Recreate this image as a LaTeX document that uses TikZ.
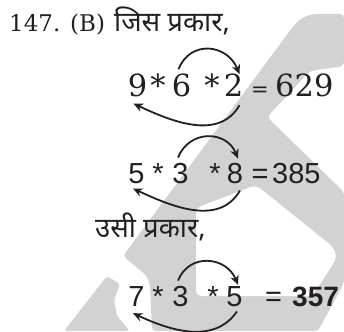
\documentclass[tikz,border=0pt]{standalone}
\usepackage{fontspec}
\setmainfont{DejaVu Serif}
\newfontfamily\hindi[Script=Devanagari]{Noto Sans}
\newfontfamily\sans{Liberation Sans}
\usetikzlibrary{arrows.meta}
\definecolor{wm}{RGB}{210,210,210}
\definecolor{ink}{RGB}{35,31,32}
\tikzset{
  ser/.style={font=\fontsize{30.5}{32}\selectfont, inner sep=0pt, anchor=base, text=ink},
  sa/.style={font=\sans\fontsize{29}{30}\selectfont, inner sep=0pt, anchor=base, text=ink},
  sab/.style={font=\sans\bfseries\fontsize{28}{30}\selectfont, inner sep=0pt, anchor=base west, text=ink},
  hin/.style={font=\hindi\fontsize{27.5}{30}\selectfont, anchor=base west, inner sep=0pt, text=ink},
  arc/.style={draw=ink, line width=1.8pt, -{Stealth[length=9.5pt,width=8.5pt]}},
}
\begin{document}
\begin{tikzpicture}[x=1pt,y=1pt]
\useasboundingbox (0,0) rectangle (344,-331);
% watermark
\fill[wm, rounded corners=4pt] (292,-28) -- (300,-19) -- (312,-14) -- (344,-14) -- (344,-66) -- (310,-71) -- (267,-117) -- (344,-192) -- (344,-283) -- (318,-331) -- (152,-331) -- (150,-285) -- (147,-276) -- (123,-256) -- cycle;
\fill[wm, rounded corners=3pt] (64,-331) -- (107,-276) -- (120,-284) -- (114,-300) -- (117,-316) -- (130,-331) -- cycle;
\fill[white, rounded corners=5pt] (196,-208) -- (256,-185) -- (333,-247) -- (337,-257) -- (328,-272) -- (312,-296) -- (196,-296) -- cycle;
% header
\node[font=\fontsize{23}{26}\selectfont, anchor=base west, inner sep=0pt, text=ink] (hd) at (9,-32) {147. (B)};
\node[hin] (hh) at (114,-32) {जिस प्रकार,};
% line 1
\node[ser] (n9) at (137.5,-96) {9};
\node[ser] (a1) at (158,-96) {*};
\node[ser] (n6) at (181.5,-96) {6};
\node[ser] (a2) at (212,-96) {*};
\node[ser] (n2) at (233.5,-96) {2};
\node[ser, font=\fontsize{21}{24}\selectfont] (e1) at (260,-96) {=};
\node[ser, anchor=base west] (r1) at (275,-96) {629};
\draw[arc] ([xshift=-3pt,yshift=4pt]n6.north) to[out=68,in=112,looseness=1.35] ([xshift=6pt,yshift=-1pt]n2.north);
\draw[arc] ([xshift=6pt,yshift=-9pt]n2.south) to[out=-120,in=-25] ([xshift=-4pt,yshift=-7pt]n9.south);
% line 2
\node[sa] (m5) at (136.5,-183) {5};
\node[sa] (b1) at (158,-183) {*};
\node[sa] (m3) at (180.5,-183) {3};
\node[sa] (b2) at (215,-183) {*};
\node[sa] (m8) at (235,-183) {8};
\node[sa] (e2) at (260,-183) {=};
\node[sa, anchor=base west] (r2) at (272,-183) {385};
\draw[arc] ([xshift=-2.5pt,yshift=5pt]m3.north) to[out=68,in=112,looseness=1.3] ([xshift=3pt,yshift=4pt]m8.north);
\draw[arc] ([xshift=5pt,yshift=-7pt]m8.south) to[out=-120,in=-25] ([xshift=-3.5pt,yshift=-5pt]m5.south);
% middle text
\node[hin] (mid) at (95,-237) {उसी प्रकार,};
% line 3
\node[sa] (k7) at (136.5,-306) {7};
\node[sa] (c1) at (158,-306) {*};
\node[sa] (k3) at (180.5,-306) {3};
\node[sa] (c2) at (213,-306) {*};
\node[sa] (k5) at (234.5,-306) {5};
\node[sa] (e3) at (273.5,-306) {=};
\node[sab] (r3) at (292,-306) {357};
\draw[arc] ([xshift=-2.5pt,yshift=5pt]k3.north) to[out=68,in=112,looseness=1.3] ([xshift=3.5pt,yshift=1pt]k5.north);
\draw[arc] ([xshift=2.5pt,yshift=-5pt]k5.south) to[out=-125,in=-25] ([xshift=-3.5pt,yshift=-7pt]k7.south);
\end{tikzpicture}
\end{document}
